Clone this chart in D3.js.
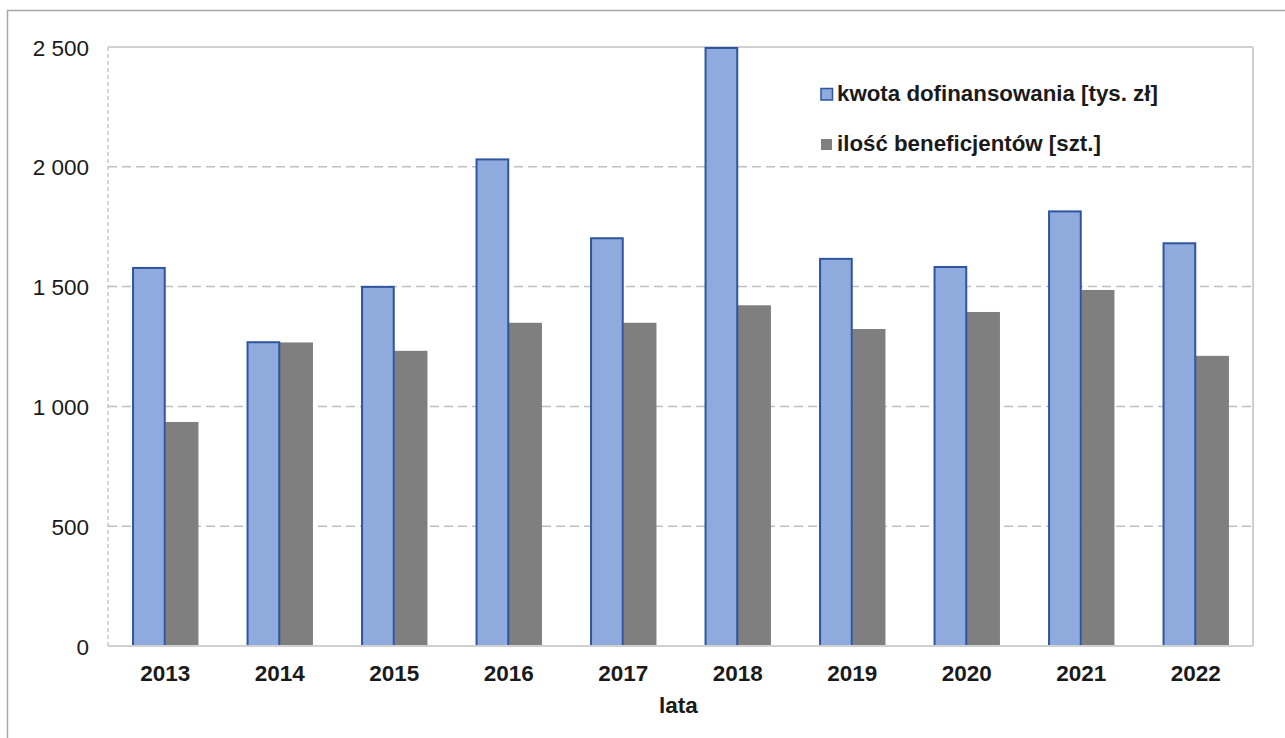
<!DOCTYPE html>
<html><head><meta charset="utf-8">
<script src="https://cdn.jsdelivr.net/npm/d3@7"></script>
<style>body{margin:0;background:#fff;} svg{display:block;font-family:"Liberation Sans",Arial,sans-serif;}</style>
</head><body>
<svg id="c" width="1285" height="738"></svg>
<script>
const years = ["2013","2014","2015","2016","2017","2018","2019","2020","2021","2022"];
const kwota = [1582, 1272, 1503, 2035, 1706, 2500, 1620, 1586, 1818, 1685];
const ilosc = [935, 1267, 1232, 1349, 1349, 1422, 1323, 1394, 1486, 1211];
const seriesNames = ["kwota dofinansowania [tys. zł]", "ilość beneficjentów [szt.]"];
const yTicks = [0, 500, 1000, 1500, 2000, 2500];
const yTickLabels = ["0", "500", "1 000", "1 500", "2 000", "2 500"];
const xTitle = "lata";

const svg = d3.select("#c");
const L = 108, R = 1253, T = 47, B = 646;

// outer border
svg.append("rect").attr("x", 7.5).attr("y", 10.5).attr("width", 1290).attr("height", 740)
  .attr("fill", "none").attr("stroke", "#a6a6a6").attr("stroke-width", 1.5);

const x = d3.scaleBand().domain(years).range([L, R]).padding(0);
const inner = d3.scaleBand().domain([0, 1]).range([x.bandwidth() * 0.21, x.bandwidth() * 0.79]).padding(0);
const y = d3.scaleLinear().domain([0, 2500]).range([B, T]);

// gridlines
svg.append("g").selectAll("line").data(yTicks.filter(d => d > 0 && d < 2500)).join("line")
  .attr("x1", L).attr("x2", R).attr("y1", d => y(d)).attr("y2", d => y(d))
  .attr("stroke", "#bfbfbf").attr("stroke-width", 1.5).attr("stroke-dasharray", "9,5");

// plot frame: top & right solid, left dashed
svg.append("line").attr("x1", L).attr("x2", R).attr("y1", T).attr("y2", T).attr("stroke", "#d0d0d0").attr("stroke-width", 2);
svg.append("line").attr("x1", R).attr("x2", R).attr("y1", T).attr("y2", B).attr("stroke", "#d0d0d0").attr("stroke-width", 2);
svg.append("line").attr("x1", L).attr("x2", L).attr("y1", T).attr("y2", B).attr("stroke", "#c8c8c8").attr("stroke-width", 1.5).attr("stroke-dasharray", "4,3");

// bars
const data = years.map((yr, i) => ({yr, v: [kwota[i], ilosc[i]]}));
const g = svg.append("g");
data.forEach(d => {
  g.append("rect")
    .attr("x", x(d.yr) + inner(1)).attr("width", inner.bandwidth())
    .attr("y", y(d.v[1])).attr("height", B - y(d.v[1]))
    .attr("fill", "#7f7f7f");
  g.append("rect")
    .attr("x", x(d.yr) + inner(0) + 1).attr("width", inner.bandwidth() - 1.5)
    .attr("y", y(d.v[0]) + 1).attr("height", B - y(d.v[0]) - 1)
    .attr("fill", "#8faadc").attr("stroke", "#2f55a0").attr("stroke-width", 2);
});

// bottom axis line
svg.append("line").attr("x1", L).attr("x2", R).attr("y1", B).attr("y2", B).attr("stroke", "#d0d0d0").attr("stroke-width", 2);

// y labels
svg.append("g").selectAll("text").data(yTicks).join("text")
  .attr("x", 89).attr("y", d => y(d) + 1).attr("text-anchor", "end").attr("dominant-baseline", "central")
  .attr("font-size", 22.5).attr("fill", "#1a1a1a")
  .text((d, i) => yTickLabels[i]);

// x labels
svg.append("g").selectAll("text").data(years).join("text")
  .attr("x", d => x(d) + x.bandwidth() / 2).attr("y", 681)
  .attr("text-anchor", "middle").attr("font-size", 22.5).attr("font-weight", "bold").attr("fill", "#1a1a1a")
  .text(d => d);

svg.append("text").attr("x", (L + R) / 2 - 2).attr("y", 713).attr("text-anchor", "middle")
  .attr("font-size", 22.5).attr("font-weight", "bold").attr("fill", "#1a1a1a").text(xTitle);

// legend
const lg = svg.append("g");
lg.append("rect").attr("x", 821).attr("y", 88.5).attr("width", 11.5).attr("height", 11.5)
  .attr("fill", "#8faadc").attr("stroke", "#2f55a0").attr("stroke-width", 1.5);
lg.append("rect").attr("x", 821).attr("y", 139).attr("width", 11).attr("height", 11).attr("fill", "#7f7f7f");
lg.append("text").attr("x", 837).attr("y", 101).attr("font-size", 22.3).attr("font-weight", "bold").attr("fill", "#1a1a1a").text(seriesNames[0]);
lg.append("text").attr("x", 837).attr("y", 151).attr("font-size", 22.3).attr("font-weight", "bold").attr("fill", "#1a1a1a").text(seriesNames[1]);
</script>
</body></html>
